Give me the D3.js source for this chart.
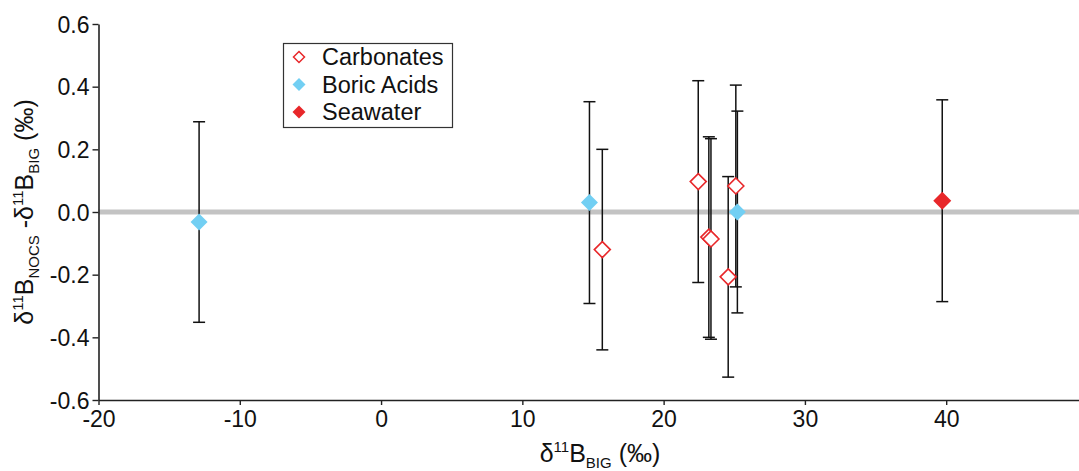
<!DOCTYPE html>
<html>
<head>
<meta charset="utf-8">
<script src="https://cdn.jsdelivr.net/npm/d3@7"></script>
<style>
body { margin:0; background:#fff; }
text { font-family: "Liberation Sans", Arial, sans-serif; fill:#111; }
</style>
</head>
<body>
<svg id="chart" width="1079" height="471"></svg>
<script>
// data
var carbX = [15.66, 22.45, 23.2, 23.35, 24.57, 25.11];
var carbY = [-0.12, 0.097, -0.08, -0.086, -0.207, 0.083];
var carbErr = [0.32, 0.322, 0.32, 0.32, 0.32, 0.322];

var boricX = [-12.88, 14.75, 25.22];
var boricY = [-0.032, 0.03, 0.0];
var boricErr = [0.32, 0.322, 0.322];

var seaX = [39.72];
var seaY = [0.036];
var seaErr = [0.322];

var xTicks = [-20, -10, 0, 10, 20, 30, 40];
var yTicks = [-0.6, -0.4, -0.2, 0.0, 0.2, 0.4, 0.6];

var legendNames = ["Carbonates", "Boric Acids", "Seawater"];

var red = "#e8272a", blue = "#72cff3";

var svg = d3.select("#chart");
var x = d3.scaleLinear().domain([-20, 49.4]).range([98.5, 1079]);
var y = d3.scaleLinear().domain([-0.6, 0.6]).range([400, 24]);

// zero line
svg.append("line")
	.attr("x1", x(-20)).attr("x2", 1079)
	.attr("y1", y(0)).attr("y2", y(0))
	.attr("stroke", "#c3c3c3").attr("stroke-width", 5);

// axes
var xAxis = svg.append("g")
	.attr("transform", "translate(0," + y(-0.6) + ")")
	.call(d3.axisBottom(x).tickValues(xTicks).tickSize(5).tickSizeOuter(0).tickFormat(d3.format("d")));
var yAxis = svg.append("g")
	.attr("transform", "translate(" + x(-20) + ",0)")
	.call(d3.axisLeft(y).tickValues(yTicks).tickSize(6).tickSizeOuter(0)
		.tickFormat(function(d){ return d3.format(".1f")(d).replace("−", "-"); }));
xAxis.select(".domain").attr("stroke", "#222").attr("stroke-width", 1.6);
yAxis.select(".domain").attr("stroke", "#222").attr("stroke-width", 1.6);
svg.selectAll(".tick line").attr("stroke", "#222").attr("stroke-width", 1.4);
xAxis.selectAll("text").attr("font-size", 23).attr("y", 10).attr("dy", "0.72em").style("font-family", "Liberation Sans, Arial");
yAxis.selectAll("text").attr("font-size", 23).attr("x", -9).attr("dy", "0.36em").style("font-family", "Liberation Sans, Arial");
xAxis.selectAll("text").text(function(d){ return d < 0 ? "-" + Math.abs(d) : d; });

// error bars
function errBars(xs, ys, es){
	var g = svg.append("g");
	xs.forEach(function(v, i){
		var cx = x(v);
		g.append("line").attr("x1", cx).attr("x2", cx)
			.attr("y1", y(ys[i] + es[i])).attr("y2", y(ys[i] - es[i]))
			.attr("stroke", "#111").attr("stroke-width", 1.5);
		[ys[i] + es[i], ys[i] - es[i]].forEach(function(e){
			g.append("line").attr("x1", cx - 6).attr("x2", cx + 6)
				.attr("y1", y(e)).attr("y2", y(e))
				.attr("stroke", "#111").attr("stroke-width", 1.5);
		});
	});
}
errBars(boricX, boricY, boricErr);
errBars(carbX, carbY, carbErr);
errBars(seaX, seaY, seaErr);

function diamond(r){ return "M0," + (-r) + "L" + r + ",0L0," + r + "L" + (-r) + ",0Z"; }

svg.append("g").selectAll("path").data(boricX).join("path")
	.attr("d", diamond(8.5))
	.attr("transform", function(d, i){ return "translate(" + x(d) + "," + y(boricY[i]) + ")"; })
	.attr("fill", blue);
svg.append("g").selectAll("path").data(carbX).join("path")
	.attr("d", diamond(8))
	.attr("transform", function(d, i){ return "translate(" + x(d) + "," + y(carbY[i]) + ")"; })
	.attr("fill", "#fff").attr("stroke", red).attr("stroke-width", 1.6);
svg.append("g").selectAll("path").data(seaX).join("path")
	.attr("d", diamond(9))
	.attr("transform", function(d, i){ return "translate(" + x(d) + "," + y(seaY[i]) + ")"; })
	.attr("fill", red);

// legend
var lg = svg.append("g");
lg.append("rect").attr("x", 283.5).attr("y", 43.5).attr("width", 169).attr("height", 84)
	.attr("fill", "#fff").attr("stroke", "#333").attr("stroke-width", 1.2);
legendNames.forEach(function(n, i){
	var cy = 57 + i * 27.5;
	var m = lg.append("path").attr("transform", "translate(299," + cy + ")");
	if (i == 0) m.attr("d", diamond(5.5)).attr("fill", "#fff").attr("stroke", red).attr("stroke-width", 1.5);
	else m.attr("d", diamond(6.5)).attr("fill", i == 1 ? blue : red);
	lg.append("text").attr("x", 322).attr("y", cy + 8).attr("font-size", 23.5).text(n);
});

// axis titles
var xt = svg.append("text").attr("x", 600).attr("y", 462).attr("text-anchor", "middle").attr("font-size", 25);
xt.append("tspan").text("δ");
xt.append("tspan").attr("font-size", 15).attr("dy", -10).text("11");
xt.append("tspan").attr("dy", 10).text("B");
xt.append("tspan").attr("font-size", 15).attr("dy", 6).text("BIG");
xt.append("tspan").attr("dy", -6).text(" (‰)");

var yt = svg.append("text").attr("transform", "translate(33,212) rotate(-90)").attr("text-anchor", "middle").attr("font-size", 25);
yt.append("tspan").text("δ");
yt.append("tspan").attr("font-size", 15).attr("dy", -10).text("11");
yt.append("tspan").attr("dy", 10).text("B");
yt.append("tspan").attr("font-size", 15).attr("dy", 6).text("NOCS");
yt.append("tspan").attr("dy", -6).text(" -δ");
yt.append("tspan").attr("font-size", 15).attr("dy", -10).text("11");
yt.append("tspan").attr("dy", 10).text("B");
yt.append("tspan").attr("font-size", 15).attr("dy", 6).text("BIG");
yt.append("tspan").attr("dy", -6).text(" (‰)");
</script>
</body>
</html>
